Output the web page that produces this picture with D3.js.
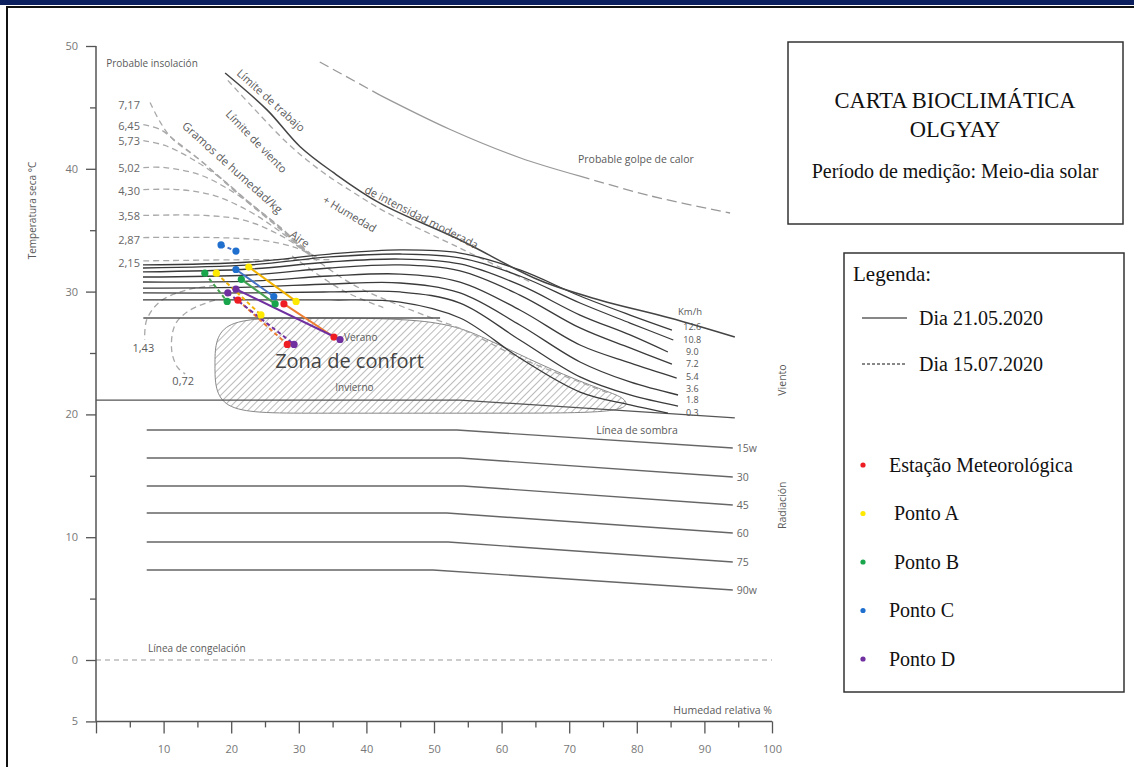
<!DOCTYPE html>
<html>
<head>
<meta charset="utf-8">
<script src="https://cdn.jsdelivr.net/npm/d3@7"></script>
<style>
  html, body { margin: 0; padding: 0; background: #fff; }
  svg { display: block; }
</style>
</head>
<body>
<div id="chart"></div>
<script>
// ---- ejes ----
const xTicks = [0, 10, 20, 30, 40, 50, 60, 70, 80, 90, 100];
const xMinor = [5, 15, 25, 35, 45, 55, 65, 75, 85, 95];
const yTicks = [-5, 0, 10, 20, 30, 40, 50];
const yMinor = [5, 15, 25, 35, 45];

// ---- mediciones [humedad %, temperatura °C]: inicio -> fin ----
const stations = ["Estação Meteorológica", "Ponto A", "Ponto B", "Ponto C", "Ponto D"];
const pointColors = ["#ee1d23", "#ffe900", "#19a54b", "#1e6fce", "#7030a0"];
const pathColors = ["#ed7d31", "#f2b200", "#45a04f", "#4472c4", "#7030a0"];
const days = ["Dia 21.05.2020", "Dia 15.07.2020"];
const may21 = [
  [[27.8, 29.0], [35.2, 26.3]],
  [[22.6, 32.0], [29.6, 29.2]],
  [[21.5, 31.0], [26.5, 29.0]],
  [[20.7, 31.8], [26.3, 29.6]],
  [[20.7, 30.2], [36.1, 26.1]]
];
const jul15 = [
  [[21.0, 29.3], [28.3, 25.7]],
  [[17.8, 31.5], [24.4, 28.1]],
  [[16.1, 31.5], [19.4, 29.2]],
  [[18.5, 33.8], [20.7, 33.3]],
  [[19.5, 29.9], [29.3, 25.7]]
];

// ---- carta de Olgyay ----
const insolationLabels = ["7,17", "6,45", "5,73", "5,02", "4,30", "3,58", "2,87", "2,15"];
const insolationLabelTemps = [44.9, 43.2, 41.9, 39.7, 37.9, 35.8, 33.9, 32.0];
const insolationCurves = [
  [[8.0, 45.4], [9.5, 43.8], [11.2, 42.5], [15.4, 40.7], [21.3, 37.9], [27.2, 35.2], [30.9, 33.4]],
  [[7.0, 43.6], [9.5, 43.2], [11.7, 42.3], [15.4, 40.7], [21.3, 37.8], [27.2, 35.1], [30.9, 33.3]],
  [[7.0, 42.3], [10.2, 41.9], [13.9, 40.9], [18.3, 39.3], [22.8, 37.2], [28.0, 34.9], [30.9, 33.2]],
  [[7.0, 40.1], [10.2, 40.1], [15.4, 39.5], [20.6, 38.0], [25.0, 36.2], [29.4, 34.2], [31.7, 33.1]],
  [[7.0, 38.3], [12.4, 38.3], [17.6, 37.8], [22.8, 36.5], [27.2, 34.9], [31.7, 33.0]],
  [[7.0, 36.2], [16.1, 36.2], [22.0, 35.8], [27.2, 34.6], [32.4, 32.8]],
  [[7.0, 34.4], [17.6, 34.4], [24.3, 34.2], [29.4, 33.6], [33.1, 32.7]],
  [[7.0, 32.5], [22.8, 32.6], [34.6, 32.6]]
];
const humidityDashA = [[29.6, 33.8], [37.6, 30.7], [43.9, 29.1], [50.4, 27.7], [54.3, 26.9], [62.7, 24.6], [76.0, 21.7]];
const humidityDashB = [[29.0, 32.9], [36.5, 30.1], [42.5, 28.7]];
const arc143 = [[17.6, 30.5], [13.2, 30.1], [9.5, 29.2], [7.5, 27.7], [7.2, 26.1]];
const arc072 = [[17.6, 29.3], [13.9, 28.5], [11.7, 27.3], [11.2, 25.2], [12.1, 23.8], [13.2, 23.3]];

const workLimit = [[19.1, 47.8], [25.3, 44.8], [30.2, 41.8], [35.1, 39.7], [42.0, 37.2], [53.85, 34.2], [65.7, 30.9], [74.6, 29.3], [84.9, 27.85], [94.5, 26.3]];
const windLimit = [[19.5, 47.2], [23.2, 45.0], [28.3, 42.1], [33.1, 39.9], [38.0, 38.1], [42.8, 36.5], [53.8, 33.55], [64.2, 30.8]];
const heatStroke = [[33.1, 48.7], [42.0, 46.0], [52.4, 43.2], [62.7, 40.9], [71.6, 39.4], [82.0, 37.8], [93.8, 36.4]];

const windLabels = ["12.6", "10.8", "9.0", "7.2", "5.4", "3.6", "1.8", "0.3"];
const windLabelTemps = [26.87, 25.81, 24.80, 23.82, 22.84, 21.86, 20.89, 19.91];
const windHum = [6.95, 22.8, 34.6, 45.0, 53.85, 62.7, 71.6, 79.0];
const windEndHum = [85.2, 85.4, 84.6, 85.2, 85.9, 86.1, 86.1, 84.6];
const windTemps = [
  [32.17, 32.41, 33.06, 33.39, 33.14, 31.76, 29.64, 28.09, 26.87],
  [31.92, 32.17, 32.82, 33.06, 32.74, 31.27, 29.07, 27.44, 26.06],
  [31.60, 31.84, 32.41, 32.65, 32.25, 30.54, 28.09, 26.47, 25.08],
  [31.19, 31.35, 31.92, 32.17, 31.68, 29.72, 27.04, 25.41, 24.10],
  [30.78, 30.86, 31.27, 31.43, 30.78, 28.50, 25.65, 24.19, 22.96],
  [30.29, 30.37, 30.62, 30.70, 29.89, 27.28, 24.27, 22.64, 21.58],
  [29.89, 29.89, 29.97, 29.97, 29.07, 26.06, 23.05, 21.58, 20.68],
  [29.32, 29.32, 29.32, 29.15, 27.85, 24.59, 21.82, 20.77, 20.11]
];
const summerLine = [[7.0, 27.85], [50.9, 27.85]];

const comfortZone = [[17.6, 24], [17.6, 27.85], [30, 27.85], [50, 27.85], [57, 26.4], [64, 24.5], [71, 22.8], [76.5, 21.7],
  [78.6, 21.2], [78.6, 20.1], [60, 20.1], [30, 20.1], [17.6, 20.1]];
const shadowLine = [[0, 21.17], [53.85, 21.17], [94.5, 19.71]];

const radiationLabels = ["15w", "30", "45", "60", "75", "90w"];
const radiationStart = 7.5;
const radiationKnee = [53.4, 53.85, 54.3, 51.9, 52.1, 49.85];
const radiationEnd = 94.2;
const radiationTemps = [18.73, 16.45, 14.17, 11.97, 9.61, 7.33];
const radiationEndTemps = [17.26, 14.9, 12.62, 10.34, 7.98, 5.7];

// textos de la carta: [texto, humedad, temperatura, ángulo, tamaño, anclaje]
const chartTexts = [
  ["Probable insolación", 1.5, 48.3, 0, 10, "start"],
  ["Límite de trabajo", 20.7, 47.7, 42, 11, "start"],
  ["Límite de viento", 19.1, 44.4, 46, 11, "start"],
  ["Gramos de humedad/kg", 12.6, 43.4, 42, 11.5, "start"],
  ["Aire", 28.6, 34.5, 35, 11, "start"],
  ["+ Humedad", 33.4, 37.3, 31, 11, "start"],
  ["de intensidad moderada", 39.6, 38.1, 27, 11, "start"],
  ["Probable golpe de calor", 71.3, 40.5, 0, 10.5, "start"],
  ["Km/h", 86.1, 28.1, 0, 9.5, "start"],
  ["1,43", 7.0, 25.1, 0, 11, "middle"],
  ["0,72", 12.9, 22.4, 0, 11, "middle"],
  ["Verano", 36.7, 26.0, 0, 10, "start"],
  ["Invierno", 35.4, 21.9, 0, 10, "start"],
  ["Línea de sombra", 74.0, 18.4, 0, 10.5, "start"],
  ["Línea de congelación", 7.7, 0.65, 0, 10, "start"],
  ["Humedad relativa %", 100, -4.4, 0, 10.5, "end"],
  ["Temperatura seca °C", -8.9, 36.6, -90, 10, "middle"],
  ["Viento", 102.1, 22.8, -90, 10.5, "middle"],
  ["Radiación", 102.1, 12.6, -90, 10.5, "middle"]
];

const W = 1134, H = 767;
const sans = "'Open Sans', 'DejaVu Sans', sans-serif";
const serif = "'Liberation Serif', 'Times New Roman', serif";

const svg = d3.select("#chart").append("svg").attr("width", W).attr("height", H);

const x = d3.scaleLinear().domain([0, 100]).range([96, 772]);
const y = d3.scaleLinear().domain([-5, 50]).range([721.4, 46]);
const straight = d3.line().x(d => x(d[0])).y(d => y(d[1]));
const smooth = d3.line().x(d => x(d[0])).y(d => y(d[1])).curve(d3.curveCatmullRom.alpha(0.5));

// marco de la página
svg.append("rect").attr("x", 0).attr("y", 0).attr("width", W).attr("height", 5).attr("fill", "#0c1f5e");
svg.append("path").attr("d", `M7,${H}V7H${W}`).attr("fill", "none").attr("stroke", "#111").attr("stroke-width", 2);

// rayado zona de confort
const defs = svg.append("defs");
const hatch = defs.append("pattern")
  .attr("id", "hatch")
  .attr("patternUnits", "userSpaceOnUse")
  .attr("width", 5).attr("height", 5)
  .attr("patternTransform", "rotate(45)");
hatch.append("line").attr("x1", 0).attr("y1", 0).attr("x2", 0).attr("y2", 5)
  .attr("stroke", "#8c8c8c").attr("stroke-width", 1.2);

const chart = svg.append("g");

chart.append("path")
  .attr("d", d3.line().x(d => x(d[0])).y(d => y(d[1])).curve(d3.curveBasisClosed)(comfortZone))
  .attr("fill", "url(#hatch)")
  .attr("stroke", "#888")
  .attr("stroke-width", 1);

// radiación
radiationLabels.forEach((lab, i) => {
  chart.append("path")
    .attr("d", straight([[radiationStart, radiationTemps[i]], [radiationKnee[i], radiationTemps[i]], [radiationEnd, radiationEndTemps[i]]]))
    .attr("fill", "none").attr("stroke", "#666").attr("stroke-width", 1.4);
});

// línea de sombra y congelación
chart.append("path").attr("d", straight(shadowLine)).attr("fill", "none").attr("stroke", "#555").attr("stroke-width", 1.3);
chart.append("path").attr("d", straight([[0, 0], [100, 0]]))
  .attr("fill", "none").attr("stroke", "#999").attr("stroke-width", 1.2).attr("stroke-dasharray", "5,4");

// curvas discontinuas
const dashed = [...insolationCurves, humidityDashA, humidityDashB, arc143, arc072, windLimit];
dashed.forEach(c => {
  chart.append("path").attr("d", smooth(c))
    .attr("fill", "none").attr("stroke", "#a8a8a8").attr("stroke-width", 1.3).attr("stroke-dasharray", "6,4");
});

// viento
windTemps.forEach((temps, i) => {
  const pts = windHum.map((h, j) => [h, temps[j]]).concat([[windEndHum[i], temps[8]]]);
  chart.append("path").attr("d", smooth(pts))
    .attr("fill", "none").attr("stroke", "#3a3a3a").attr("stroke-width", 1.3);
});
chart.append("path").attr("d", straight(summerLine)).attr("fill", "none").attr("stroke", "#555").attr("stroke-width", 1.3);

// límite de trabajo y golpe de calor
chart.append("path").attr("d", smooth(workLimit)).attr("fill", "none").attr("stroke", "#444").attr("stroke-width", 1.5);
chart.append("path").attr("d", smooth(heatStroke.slice(0, 2)))
  .attr("fill", "none").attr("stroke", "#999").attr("stroke-width", 1.3).attr("stroke-dasharray", "10,5");
chart.append("path").attr("d", smooth(heatStroke.slice(1, 5)))
  .attr("fill", "none").attr("stroke", "#999").attr("stroke-width", 1.3);
chart.append("path").attr("d", smooth(heatStroke.slice(4)))
  .attr("fill", "none").attr("stroke", "#999").attr("stroke-width", 1.3).attr("stroke-dasharray", "10,5");

// ejes
const axisColor = "#555";
chart.append("line").attr("x1", x(0)).attr("x2", x(0)).attr("y1", y(50)).attr("y2", y(-5))
  .attr("stroke", axisColor).attr("stroke-width", 1.5);
chart.append("line").attr("x1", x(0)).attr("x2", x(100)).attr("y1", y(-5)).attr("y2", y(-5))
  .attr("stroke", axisColor).attr("stroke-width", 1.5);

function styleAxis(g) {
  g.select(".domain").remove();
  g.selectAll(".tick line").attr("stroke", axisColor).attr("stroke-width", 1.3);
  g.selectAll(".tick text").attr("fill", "#777").style("font-family", sans).style("font-size", "11px");
}
chart.append("g").attr("transform", `translate(${x(0)},0)`)
  .call(d3.axisLeft(y).tickValues(yTicks).tickSize(10).tickPadding(8).tickFormat(d => Math.abs(d)))
  .call(styleAxis);
chart.append("g").attr("transform", `translate(${x(0)},0)`)
  .call(d3.axisLeft(y).tickValues(yMinor).tickSize(6).tickFormat(""))
  .call(styleAxis);
chart.append("g").attr("transform", `translate(0,${y(-5)})`)
  .call(d3.axisBottom(x).tickValues(xTicks).tickSize(12).tickPadding(12).tickFormat(d => d === 0 ? "" : d))
  .call(styleAxis);
chart.append("g").attr("transform", `translate(0,${y(-5)})`)
  .call(d3.axisBottom(x).tickValues(xMinor).tickSize(6).tickFormat(""))
  .call(styleAxis);

// etiquetas
insolationLabels.forEach((lab, i) => {
  chart.append("text").attr("x", x(6.5)).attr("y", y(insolationLabelTemps[i]))
    .attr("text-anchor", "end").attr("fill", "#666")
    .style("font-family", sans).style("font-size", "11px").text(lab);
});
windLabels.forEach((lab, i) => {
  chart.append("text").attr("x", x(88.2)).attr("y", y(windLabelTemps[i]))
    .attr("text-anchor", "middle").attr("fill", "#555")
    .style("font-family", sans).style("font-size", "9px").text(lab);
});
radiationLabels.forEach((lab, i) => {
  chart.append("text").attr("x", x(94.8)).attr("y", y(radiationEndTemps[i]) + 4)
    .attr("fill", "#666")
    .style("font-family", sans).style("font-size", "10.5px").text(lab);
});
chartTexts.forEach(([txt, h, t, ang, size, anchor]) => {
  chart.append("text")
    .attr("transform", `translate(${x(h)},${y(t)}) rotate(${ang})`)
    .attr("text-anchor", anchor).attr("fill", "#5a5a5a")
    .style("font-family", sans).style("font-size", size + "px").text(txt);
});
chart.append("text").attr("x", x(26.5)).attr("y", y(23.78))
  .attr("fill", "#444").style("font-family", sans).style("font-size", "20px").text("Zona de confort");

// mediciones
[may21, jul15].forEach((set, k) => {
  set.forEach((seg, i) => {
    chart.append("path").attr("d", straight(seg))
      .attr("fill", "none").attr("stroke", pathColors[i]).attr("stroke-width", 2)
      .attr("stroke-dasharray", k === 1 ? "4,3" : null);
  });
});
[may21, jul15].forEach(set => {
  set.forEach((seg, i) => {
    chart.selectAll(null).data(seg).join("circle")
      .attr("cx", d => x(d[0])).attr("cy", d => y(d[1])).attr("r", 3.6)
      .attr("fill", pointColors[i]);
  });
});

// cuadro de título
const titleBox = svg.append("g");
titleBox.append("rect").attr("x", 788).attr("y", 42).attr("width", 335).attr("height", 182)
  .attr("fill", "#fff").attr("stroke", "#333").attr("stroke-width", 1.5);
[["CARTA BIOCLIMÁTICA", 108, 22.5], ["OLGYAY", 137, 22.5], ["Período de medição: Meio-dia solar", 178, 20]]
  .forEach(([txt, yy, size]) => {
    titleBox.append("text").attr("x", 955).attr("y", yy).attr("text-anchor", "middle")
      .attr("fill", "#111").style("font-family", serif).style("font-size", size + "px").text(txt);
  });

// leyenda
const legend = svg.append("g");
legend.append("rect").attr("x", 844).attr("y", 253).attr("width", 280).attr("height", 439)
  .attr("fill", "#fff").attr("stroke", "#333").attr("stroke-width", 1.5);
legend.append("text").attr("x", 853).attr("y", 281).attr("fill", "#111")
  .style("font-family", serif).style("font-size", "21px").text("Legenda:");
days.forEach((d, i) => {
  const yy = 318 + i * 46;
  legend.append("line").attr("x1", 862).attr("x2", 907).attr("y1", yy).attr("y2", yy)
    .attr("stroke", "#111").attr("stroke-width", 1)
    .attr("stroke-dasharray", i === 1 ? "3,2" : null);
  legend.append("text").attr("x", 919).attr("y", yy + 7).attr("fill", "#111")
    .style("font-family", serif).style("font-size", "20px").text(d);
});
const legendTextX = [889, 894, 894, 889, 889];
stations.forEach((s, i) => {
  const yy = 465 + i * 48.5;
  legend.append("circle").attr("cx", 863).attr("cy", yy).attr("r", 2.6).attr("fill", pointColors[i]);
  legend.append("text").attr("x", legendTextX[i]).attr("y", yy + 6.5).attr("fill", "#111")
    .style("font-family", serif).style("font-size", "20px").text(s);
});
</script>
</body>
</html>
